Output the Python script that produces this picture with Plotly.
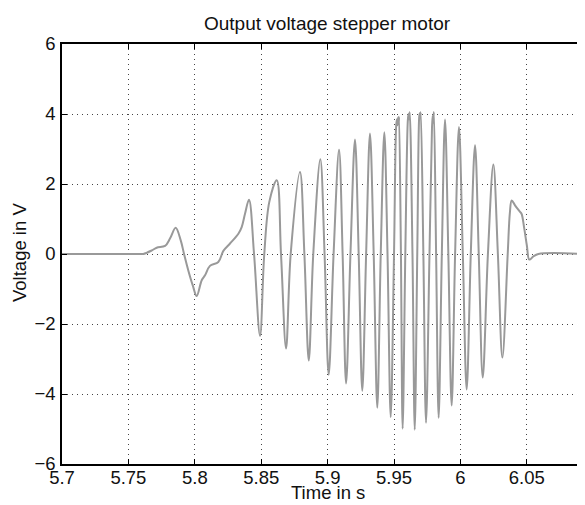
import plotly.graph_objects as go

# samples (peaks, troughs, zero crossings)
time_s = [
    5.7000, 5.7600, 5.7612, 5.7675, 5.7713, 5.7776, 5.7813, 5.7856, 5.7894, 5.7919,
    5.7951, 5.7984, 5.8014, 5.8052, 5.8077, 5.8114, 5.8177, 5.8215, 5.8265, 5.8328,
    5.8353, 5.8378, 5.8408, 5.8446, 5.8491, 5.8523, 5.8561, 5.8617, 5.8649, 5.8687,
    5.8722, 5.8792, 5.8825, 5.8858, 5.8892, 5.8945, 5.8977, 5.9008, 5.9045, 5.9086,
    5.9113, 5.9139, 5.9172, 5.9206, 5.9234, 5.9261, 5.9290, 5.9319, 5.9347, 5.9374,
    5.9400, 5.9427, 5.9451, 5.9475, 5.9500,
    5.9516, 5.9522, 5.9526, 5.9531, 5.9535, 5.9538,
    5.9552, 5.9565, 5.9585,
    5.9604, 5.9609, 5.9613, 5.9618,
    5.9639, 5.9656, 5.9675,
    5.9689, 5.9693, 5.9697, 5.9701,
    5.9721, 5.9741, 5.9767,
    5.9786, 5.9791, 5.9795, 5.9800,
    5.9817, 5.9836, 5.9860, 5.9884, 5.9909, 5.9934, 5.9960, 5.9989, 6.0018, 6.0047,
    6.0078, 6.0110, 6.0138, 6.0168, 6.0207, 6.0248, 6.0282, 6.0316, 6.0356, 6.0372,
    6.0386, 6.0411, 6.0443, 6.0460, 6.0479, 6.0500, 6.0519, 6.0549, 6.0587, 6.0940,
]
voltage_v = [
    0.00, 0.00, 0.00, 0.10, 0.18, 0.23, 0.44, 0.75, 0.39, 0.00,
    -0.47, -0.89, -1.20, -0.75, -0.61, -0.34, -0.23, 0.09, 0.30, 0.58,
    0.77, 1.15, 1.55, 0.00, -2.34, 0.00, 1.49, 2.11, 0.00, -2.70,
    0.00, 2.34, 0.00, -3.04, 0.00, 2.71, 0.00, -3.45, 0.00, 2.98,
    0.00, -3.70, 0.00, 3.27, 0.00, -3.91, 0.00, 3.44, 0.00, -4.39,
    0.00, 3.48, 0.00, -4.66, 0.00,
    3.65, 3.85, 3.68, 3.90, 3.72, 3.92,
    0.00, -4.99, 0.00,
    3.82, 4.00, 3.85, 4.05,
    0.00, -5.02, 0.00,
    3.88, 4.02, 3.90, 4.05,
    0.00, -4.82, 0.00,
    3.62, 3.95, 3.75, 4.06,
    0.00, -4.68, 0.00, 3.84, 0.00, -4.33, 0.00, 3.63, 0.00, -3.87,
    0.00, 3.11, 0.00, -3.53, 0.00, 2.56, 0.00, -2.96, 0.00, 1.16,
    1.53, 1.39, 1.23, 1.15, 0.77, 0.25, -0.16, -0.07, 0.00, 0.00,
]

x_ticks = [5.7, 5.75, 5.8, 5.85, 5.9, 5.95, 6.0, 6.05]
x_tick_labels = ["5.7", "5.75", "5.8", "5.85", "5.9", "5.95", "6", "6.05"]
y_ticks = [-6, -4, -2, 0, 2, 4, 6]

font = "Liberation Sans, Arial, sans-serif"

# the page body has an 8px margin, so the figure is 8px smaller than the window
W, H = 577, 497
ML, MT, MB = 54, 36, 41
plot_w, plot_h = W - ML, H - MT - MB


def px_x(p):
    return (p - 8 - ML) / plot_w


def px_y(p):
    return (H - MB - (p - 8)) / plot_h


fig = go.Figure()
fig.add_trace(go.Scatter(
    x=time_s, y=voltage_v, mode="lines",
    line=dict(color="#999999", width=2, shape="spline", smoothing=1.0),
    showlegend=False, hoverinfo="skip",
))

axis_common = dict(
    showline=True, linecolor="black", linewidth=1.5,
    ticks="inside", ticklen=5, tickwidth=1, tickcolor="black",
    showgrid=True, gridcolor="#444444", griddash="1px,4px", gridwidth=1,
    zeroline=False, automargin=False,
    tickfont=dict(family=font, size=18.5, color="#111111"),
)

fig.update_layout(
    width=W, height=H,
    margin=dict(l=ML, r=0, t=MT, b=MB),
    paper_bgcolor="white", plot_bgcolor="white",
    font=dict(family=font, color="#111111"),
    xaxis=dict(range=[5.7, 6.0938], tickvals=x_ticks, ticktext=x_tick_labels,
               mirror="ticks", ticklabelstandoff=-4, **axis_common),
    yaxis=dict(range=[-6, 6], tickvals=y_ticks, ticklabelstandoff=1,
               **axis_common),
    annotations=[
        dict(text="Output voltage stepper motor", x=px_x(327), y=px_y(24),
             font=dict(size=19)),
        dict(text="Time in s", x=px_x(328), y=px_y(492), font=dict(size=18.5)),
        dict(text="Voltage in V", x=px_x(19), y=px_y(253), textangle=-90,
             font=dict(size=18.5)),
    ],
)
fig.update_annotations(xref="paper", yref="paper", showarrow=False,
                       xanchor="center", yanchor="middle")

fig.write_html("out.html")
